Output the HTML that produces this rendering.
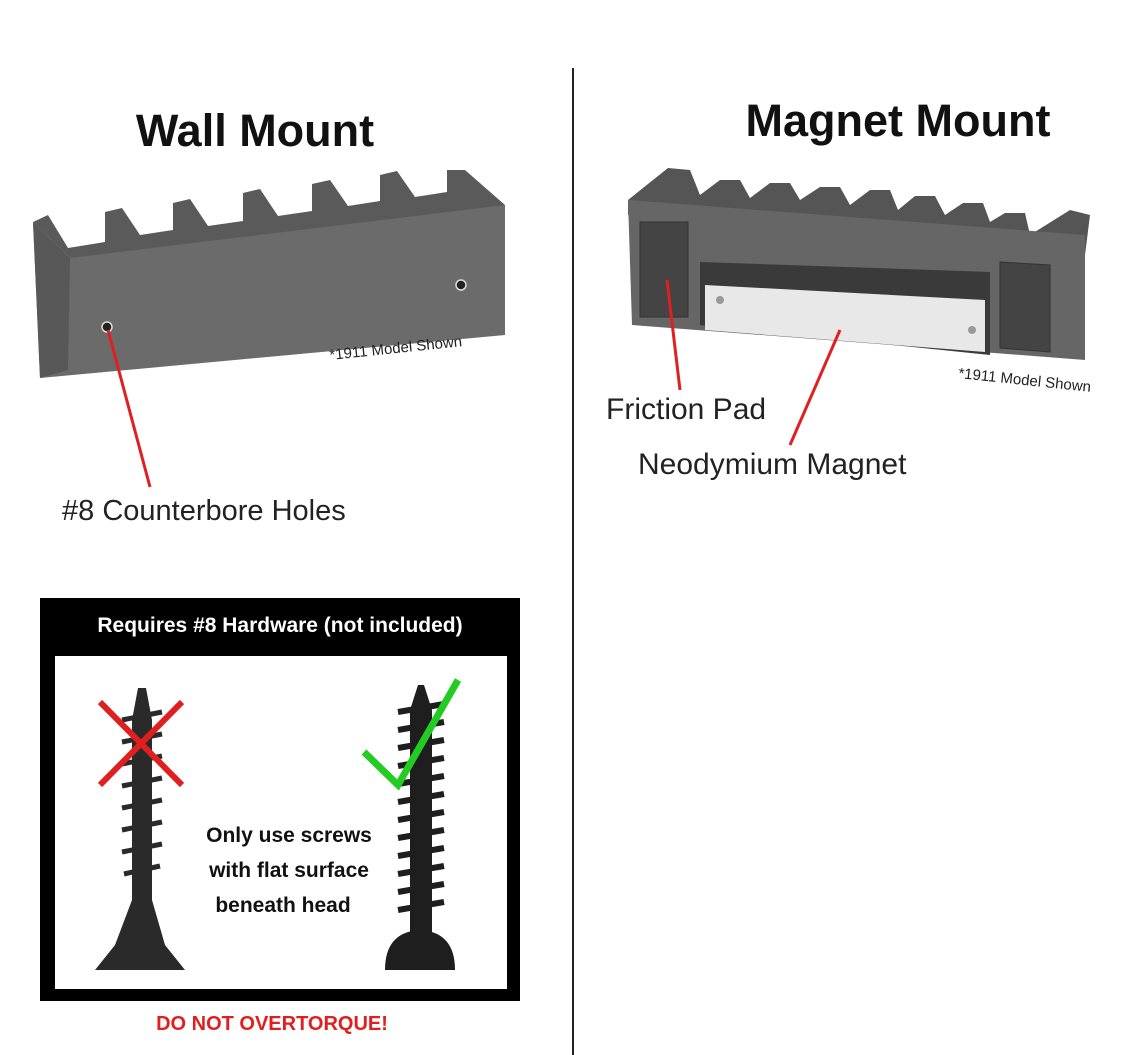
<!DOCTYPE html>
<html><head><meta charset="utf-8"><style>
body{margin:0;background:#fff;}
svg{display:block;font-family:"Liberation Sans",sans-serif;}
</style></head><body>
<svg width="1140" height="1055" viewBox="0 0 1140 1055">
<rect width="1140" height="1055" fill="#fff"/>
<line x1="573" y1="68" x2="573" y2="1055" stroke="#222" stroke-width="2"/>
<text x="255" y="146" font-size="45" font-weight="bold" text-anchor="middle" fill="#111">Wall Mount</text>
<text x="898" y="136" font-size="45" font-weight="bold" text-anchor="middle" fill="#111">Magnet Mount</text>

<!-- wall mount block -->
<g>
<polygon points="33,222 48,215 68,248 105,242 105,212 122,208 140,235 173,230 173,203 190,199 208,226 243,221 243,193 260,189 278,216 312,211 312,184 330,180 348,206 380,201 380,175 397,171 415,197 447,192 447,170 465,170 505,205 505,230 70,258" fill="#5a5a5a"/>
<polygon points="33,222 70,258 505,205 505,335 40,378" fill="#6b6b6b"/>
<polygon points="33,222 70,258 68,370 40,378" fill="#585858"/>
<circle cx="107" cy="327" r="5" fill="#222" stroke="#ddd" stroke-width="1.5"/>
<circle cx="461" cy="285" r="5" fill="#222" stroke="#ddd" stroke-width="1.5"/>
<text x="330" y="360" font-size="15" fill="#222" transform="rotate(-6 330 360)">*1911 Model Shown</text>
<line x1="108" y1="330" x2="150" y2="487" stroke="#e02020" stroke-width="3"/>
<text x="62" y="520" font-size="29" fill="#222">#8 Counterbore Holes</text>
</g>

<!-- magnet mount block -->
<g>
<polygon points="628,200 668,168 690,170 700,195 720,180 740,180 750,198 770,183 790,183 800,200 820,187 840,187 850,205 870,190 890,190 898,210 915,196 935,196 945,215 963,203 983,203 990,222 1005,213 1025,213 1030,235 1070,210 1090,215 1085,255 628,215" fill="#555"/>
<polygon points="628,200 1085,235 1085,360 632,325" fill="#666"/>
<rect x="640" y="222" width="48" height="95" fill="#444" stroke="#333"/>
<polygon points="1000,262 1050,265 1050,352 1000,348" fill="#444" stroke="#333"/>
<polygon points="700,262 990,272 990,355 700,325" fill="#3a3a3a"/>
<polygon points="705,285 985,300 985,352 705,330" fill="#e8e8e8"/>
<circle cx="720" cy="300" r="4" fill="#999"/>
<circle cx="972" cy="330" r="4" fill="#999"/>
<text x="958" y="378" font-size="15" fill="#222" transform="rotate(6 958 378)">*1911 Model Shown</text>
<line x1="667" y1="280" x2="680" y2="390" stroke="#e02020" stroke-width="3"/>
<line x1="840" y1="330" x2="790" y2="445" stroke="#e02020" stroke-width="3"/>
<text x="606" y="419" font-size="30" fill="#222">Friction Pad</text>
<text x="638" y="474" font-size="30" fill="#222">Neodymium Magnet</text>
</g>

<!-- hardware box -->
<rect x="40" y="598" width="480" height="403" fill="#000"/>
<rect x="55" y="656" width="452" height="333" fill="#fff"/>
<text x="280" y="632" font-size="21" font-weight="bold" fill="#fff" text-anchor="middle">Requires #8 Hardware (not included)</text>

<!-- left screw -->
<g fill="#2a2a2a">
<polygon points="138,688 146,688 152,720 152,900 165,945 185,970 95,970 115,945 132,900 132,720"/>
<g stroke="#2a2a2a" stroke-width="5">
<line x1="122" y1="720" x2="162" y2="712"/><line x1="122" y1="742" x2="162" y2="734"/>
<line x1="122" y1="764" x2="162" y2="756"/><line x1="122" y1="786" x2="162" y2="778"/>
<line x1="122" y1="808" x2="162" y2="800"/><line x1="122" y1="830" x2="162" y2="822"/>
<line x1="122" y1="852" x2="162" y2="844"/><line x1="124" y1="874" x2="160" y2="866"/>
</g></g>
<g stroke="#e02020" stroke-width="6">
<line x1="100" y1="702" x2="182" y2="785"/><line x1="182" y1="702" x2="100" y2="785"/>
</g>

<!-- right screw -->
<g fill="#1e1e1e">
<polygon points="418,685 424,685 432,710 432,935 410,935 410,710"/>
<g stroke="#1e1e1e" stroke-width="6">
<line x1="398" y1="712" x2="444" y2="704"/><line x1="398" y1="730" x2="444" y2="722"/>
<line x1="398" y1="748" x2="444" y2="740"/><line x1="398" y1="766" x2="444" y2="758"/>
<line x1="398" y1="784" x2="444" y2="776"/><line x1="398" y1="802" x2="444" y2="794"/>
<line x1="398" y1="820" x2="444" y2="812"/><line x1="398" y1="838" x2="444" y2="830"/>
<line x1="398" y1="856" x2="444" y2="848"/><line x1="398" y1="874" x2="444" y2="866"/>
<line x1="398" y1="892" x2="444" y2="884"/><line x1="398" y1="910" x2="444" y2="902"/>
</g>
<path d="M385,970 Q385,932 420,930 Q455,932 455,970 Z"/>
</g>
<polyline points="364,752 398,785 458,680" fill="none" stroke="#22cc22" stroke-width="7"/>

<g font-size="21" font-weight="bold" fill="#111" text-anchor="middle">
<text x="289" y="842">Only use screws</text>
<text x="289" y="877">with flat surface</text>
<text x="283" y="912">beneath head</text>
</g>
<text x="272" y="1030" font-size="20" font-weight="bold" fill="#e02020" text-anchor="middle">DO NOT OVERTORQUE!</text>
</svg>
</body></html>
